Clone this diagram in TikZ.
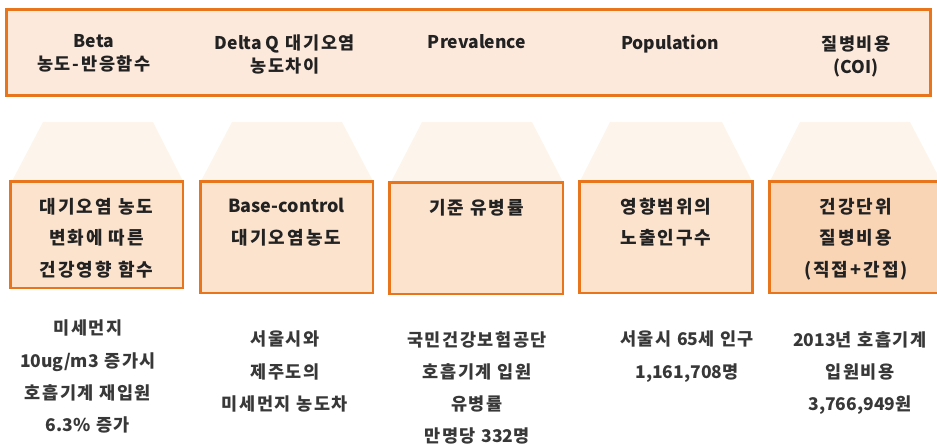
\documentclass[tikz,border=0pt]{standalone}
\usepackage{fontspec}
\setmainfont{Noto Sans CJK KR}
\newfontfamily\hdfont[LetterSpace=10]{Noto Sans CJK KR}
\newfontfamily\bxfont[LetterSpace=11]{Noto Sans CJK KR}
\newfontfamily\lwfont[LetterSpace=9]{Noto Sans CJK KR}
\newfontfamily\latfont{Noto Sans CJK KR}
\newcommand{\lt}[1]{{\latfont #1}}
\definecolor{bannerfill}{HTML}{FDE9DB}
\definecolor{orangeline}{HTML}{E8741C}
\definecolor{boxfill}{HTML}{FCE3CE}
\definecolor{boxfilldark}{HTML}{FAD5B5}
\definecolor{trapfill}{HTML}{FDF5EC}
\definecolor{txt}{HTML}{222222}
\tikzset{
  headtxt/.style={anchor=north, align=center, inner sep=0pt, text=txt,
    font=\hdfont\fontsize{17.5}{23}\selectfont\bfseries},
  boxtxt/.style={anchor=north, align=center, inner sep=0pt, text=txt,
    font=\bxfont\fontsize{18}{31.5}\selectfont\bfseries},
  lowtxt/.style={anchor=north, align=center, inner sep=0pt, text=txt!90!white,
    font=\lwfont\fontsize{17.5}{32.3}\selectfont\bfseries},
  bluebox/.style={draw=orangeline, line width=2.5pt, fill=boxfill},
  trap/.style={fill=trapfill, draw=none}
}
\begin{document}
\begin{tikzpicture}[x=1pt,y=-1pt]
\useasboundingbox (0,0) rectangle (937,446);
\clip (0,0) rectangle (937,446);
% banner
\draw[fill=bannerfill, draw=orangeline, line width=3pt] (6.5,9.5) rectangle (930.5,96);
\node[headtxt] (h1) at (94,34.5) {\lt{Beta}\\농도-반응함수};
\node[headtxt] (h2) at (285,34.5) {\lt{Delta Q} 대기오염\\농도차이};
\node[headtxt] (h3) at (477,34.5) {\lt{Prevalence}};
\node[headtxt] (h4) at (670,34.5) {\lt{Population}};
\node[headtxt] (h5) at (856,35.5) {질병비용\\\lt{(COI)}};
% trapezoids
\path[trap] (43,122) -- (153,122) -- (183,181) -- (12,181) -- cycle;
\path[trap] (232,122) -- (342,122) -- (373,181) -- (201,181) -- cycle;
\path[trap] (422,122) -- (532,122) -- (563,182) -- (391,182) -- cycle;
\path[trap] (610,122) -- (722,122) -- (752,181) -- (580,181) -- cycle;
\path[trap] (800,122) -- (910,122) -- (941,181) -- (770,181) -- cycle;
% boxes
\draw[bluebox] (10.5,181.5) rectangle (183,288);
\draw[bluebox] (200.5,181.5) rectangle (373,293);
\draw[bluebox] (389.5,182.5) rectangle (563,294);
\draw[bluebox] (579.5,181.5) rectangle (752.5,293);
\draw[bluebox, fill=boxfilldark] (769.5,181.5) rectangle (945,293);
\node[boxtxt] (b1) at (96.5,198) {대기오염 농도\\변화에 따른\\건강영향 함수};
\node[boxtxt] (b2) at (286.5,198) {\lt{Base-control}\\대기오염농도};
\node[boxtxt] (b3) at (476.5,199) {기준 유병률};
\node[boxtxt] (b4) at (666,198) {영향범위의\\노출인구수};
\node[boxtxt] (b5) at (856,198) {건강단위\\질병비용\\(직접+간접)};
% bottom texts
\node[lowtxt] (t1) at (88,320) {미세먼지\\\lt{10ug/m3} 증가시\\호흡기계 재입원\\\lt{6.3\%} 증가};
\node[lowtxt] (t2) at (285,331) {서울시와\\제주도의\\미세먼지 농도차};
\node[lowtxt] (t3) at (477,331) {국민건강보험공단\\호흡기계 입원\\유병률\\만명당 \lt{332}명};
\node[lowtxt] (t4) at (687,331) {서울시 \lt{65}세 인구\\\lt{1,161,708}명};
\node[lowtxt] (t5) at (860,331) {\lt{2013}년 호흡기계\\입원비용\\\lt{3,766,949}원};
\end{tikzpicture}
\end{document}
